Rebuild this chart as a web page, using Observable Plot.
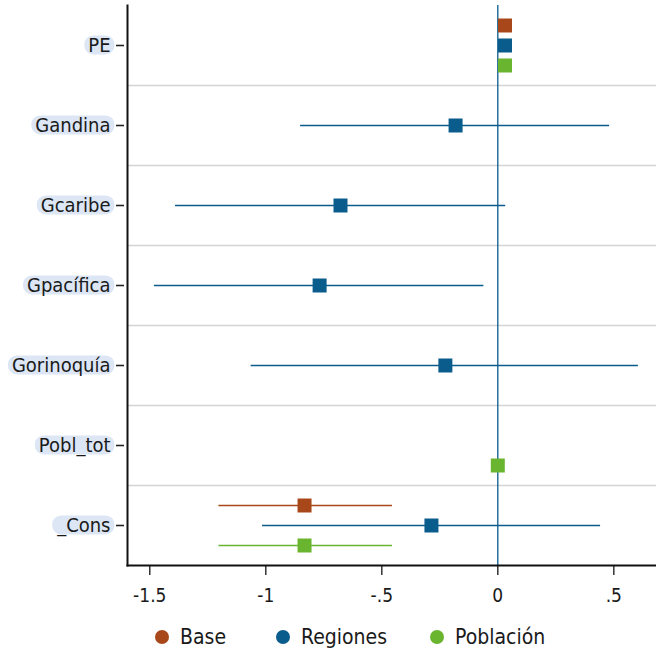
<!DOCTYPE html>
<html>
<head>
<meta charset="utf-8">
<script src="https://cdn.jsdelivr.net/npm/d3@7"></script>
<script src="https://cdn.jsdelivr.net/npm/@observablehq/plot@0.6"></script>
<style>
  body { margin: 0; background: #fff; font-family: "DejaVu Sans Condensed", "DejaVu Sans", sans-serif; }
  #wrap { position: relative; width: 656px; }
  #legend { position: relative; height: 44px; width: 656px; font-size: 21px; color: #1a1a1a; }
  .item { position: absolute; top: 0; height: 44px; display: flex; align-items: center; }
  .sw { width: 14px; height: 14px; border-radius: 50%; margin-right: 11px; }
</style>
</head>
<body>
<div id="wrap"></div>
<script>
// ---- data ----
const categories = ["PE", "Gandina", "Gcaribe", "Gpacífica", "Gorinoquía", "Pobl_tot", "_Cons"];
const seriesNames = ["Base", "Regiones", "Población"];
const seriesColors = ["#a8481a", "#0a5c8c", "#6ab530"];

const baseCats = ["PE", "_Cons"];
const basePt = [0.031, -0.833];
const baseLo = [0.029, -1.202];
const baseHi = [0.033, -0.454];

const regCats = ["PE", "Gandina", "Gcaribe", "Gpacífica", "Gorinoquía", "_Cons"];
const regPt = [0.031, -0.182, -0.678, -0.768, -0.226, -0.286];
const regLo = [0.029, -0.850, -1.389, -1.480, -1.063, -1.014];
const regHi = [0.033, 0.482, 0.034, -0.060, 0.606, 0.443];

const pobCats = ["PE", "Pobl_tot", "_Cons"];
const pobPt = [0.031, 0.000, -0.833];
const pobLo = [0.029, -0.002, -1.202];
const pobHi = [0.033, 0.002, -0.454];

const xTicks = [-1.5, -1, -0.5, 0, 0.5];
const xTickLabels = ["-1.5", "-1", "-.5", "0", ".5"];
const xDomain = [-1.596, 0.684];

// ---- build rows ----
function rows(name, cats, pt, lo, hi) {
  return cats.map((c, i) => ({series: name, cat: c, pt: pt[i], lo: lo[i], hi: hi[i]}));
}
const all = [
  rows("Base", baseCats, basePt, baseLo, baseHi),
  rows("Regiones", regCats, regPt, regLo, regHi),
  rows("Población", pobCats, pobPt, pobLo, pobHi)
];
const offsets = [-20, 0, 20];

const marks = [];
marks.push(Plot.ruleY(categories.slice(0, -1), {y: d => d, dy: 40, stroke: "#d4d4d4", strokeWidth: 1.5}));
marks.push(Plot.ruleX([0], {stroke: seriesColors[1], strokeWidth: 1.3}));
all.forEach((data, i) => {
  marks.push(Plot.ruleY(data, {y: "cat", x1: "lo", x2: "hi", dy: offsets[i], stroke: seriesColors[i], strokeWidth: 1.6}));
  marks.push(Plot.dot(data, {x: "pt", y: "cat", dy: offsets[i], symbol: "square", r: 7.9, fill: seriesColors[i], stroke: "none"}));
});
marks.push(Plot.axisY({tickSize: 8, dx: -3, tickPadding: 6, fontSize: 20, stroke: "#222", strokeWidth: 1.6, fill: "#1a1a1a", label: null}));
marks.push(Plot.axisX({ticks: xTicks, tickFormat: d => xTickLabels[xTicks.indexOf(d)], tickSize: 10, tickPadding: 13, fontSize: 19, stroke: "#333", strokeWidth: 1.5, fill: "#1a1a1a", label: null}));
marks.push(Plot.frame({anchor: "left", stroke: "#111", strokeWidth: 2}));
marks.push(Plot.frame({anchor: "bottom", stroke: "#111", strokeWidth: 2}));

const chart = Plot.plot({
  width: 656,
  height: 615,
  marginLeft: 127,
  marginRight: 0,
  marginTop: 5,
  marginBottom: 50,
  style: {fontFamily: '"DejaVu Sans Condensed", "DejaVu Sans", sans-serif', background: "#fff"},
  x: {domain: xDomain},
  y: {type: "band", domain: categories, padding: 0},
  marks
});
document.getElementById("wrap").appendChild(chart);

// rounded label backgrounds behind y tick labels
const svg = d3.select(chart);
svg.selectAll('g[aria-label="y-axis tick label"] text').each(function() {
  const b = this.getBBox();
  const g = this.parentNode;
  const tr = this.getAttribute("transform");
  const r = document.createElementNS("http://www.w3.org/2000/svg", "rect");
  r.setAttribute("x", b.x - 4);
  r.setAttribute("width", b.width + 8);
  r.setAttribute("y", b.y + b.height / 2 - 9.5);
  r.setAttribute("height", 19);
  r.setAttribute("rx", 9);
  r.setAttribute("fill", "#dce6f5");
  if (tr) r.setAttribute("transform", tr);
  g.insertBefore(r, this);
});

// legend
const legend = document.createElement("div");
legend.id = "legend";
const lefts = [155, 276, 430];
seriesNames.forEach((name, i) => {
  const it = document.createElement("div");
  it.className = "item";
  it.style.left = lefts[i] + "px";
  it.innerHTML = `<span class="sw" style="background:${seriesColors[i]}"></span><span>${name}</span>`;
  legend.appendChild(it);
});
document.getElementById("wrap").appendChild(legend);
</script>
</body>
</html>
